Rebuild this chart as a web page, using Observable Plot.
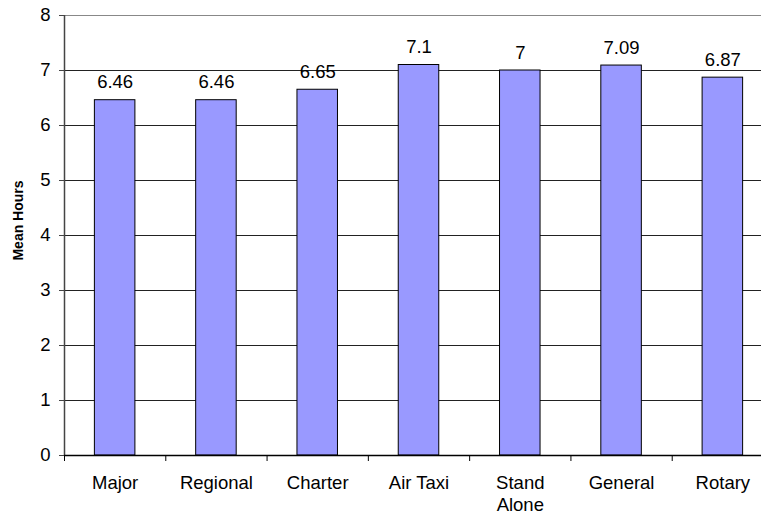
<!DOCTYPE html>
<html>
<head>
<meta charset="utf-8">
<script src="https://cdn.jsdelivr.net/npm/d3@7"></script>
<script src="https://cdn.jsdelivr.net/npm/@observablehq/plot@0.6"></script>
<style>
  html, body { margin: 0; padding: 0; background: #fff; }
</style>
</head>
<body>
<div id="chart"></div>
<script>
const categories = ["Major", "Regional", "Charter", "Air Taxi", "Stand Alone", "General", "Rotary"];
const tickLabels = ["Major", "Regional", "Charter", "Air Taxi", "Stand\nAlone", "General", "Rotary"];
const meanHours = [6.46, 6.46, 6.65, 7.1, 7, 7.09, 6.87];
const yTicks = [0, 1, 2, 3, 4, 5, 6, 7, 8];
const gridLines = [1, 2, 3, 4, 5, 6, 7];

const data = categories.map((c, i) => ({ category: c, index: i, value: meanHours[i], label: tickLabels[i] }));
const boundaries = d3.range(categories.length + 1);

const chart = Plot.plot({
  width: 761,
  height: 514,
  marginLeft: 64,
  marginRight: -12,
  marginTop: 15,
  marginBottom: 59,
  style: { fontFamily: "Liberation Sans, Arial, sans-serif", fontSize: "18px", color: "#000", background: "#fff" },
  x: { domain: [0, categories.length] },
  y: { domain: [0, 8] },
  marks: [
    Plot.ruleY(gridLines, { stroke: "#222", strokeWidth: 1 }),
    Plot.ruleY([8], { stroke: "#888", strokeWidth: 1 }),
    Plot.rectY(data, { x1: d => d.index + 0.3, x2: d => d.index + 0.7, y1: 0, y2: "value", fill: "#9999FF", stroke: "#000", strokeWidth: 1 }),
    Plot.text(data, { x: d => d.index + 0.5, y: "value", text: d => String(d.value), dy: -12, lineAnchor: "bottom", fontSize: 18.5 }),
    Plot.axisY({ ticks: yTicks, tickSize: 5, tickPadding: 9, fontSize: 18.5, label: null, stroke: "#444" }),
    Plot.axisX({ ticks: boundaries, tickSize: 6, tickFormat: () => "", label: null, stroke: "#000" }),
    Plot.text(data, { x: d => d.index + 0.5, frameAnchor: "bottom", text: "label", dy: 17.5, lineAnchor: "top", lineHeight: 1.19, fontSize: 18.5 }),
    Plot.ruleX([0], { stroke: "#444", strokeWidth: 1.5 }),
    Plot.ruleY([0], { stroke: "#000", strokeWidth: 1.5 }),
    Plot.text(["Mean Hours"], { frameAnchor: "left", rotate: -90, dx: -46, dy: -15, fontWeight: "bold", fontSize: 14, textAnchor: "middle", lineAnchor: "middle" })
  ]
});
document.getElementById("chart").appendChild(chart);
</script>
</body>
</html>
